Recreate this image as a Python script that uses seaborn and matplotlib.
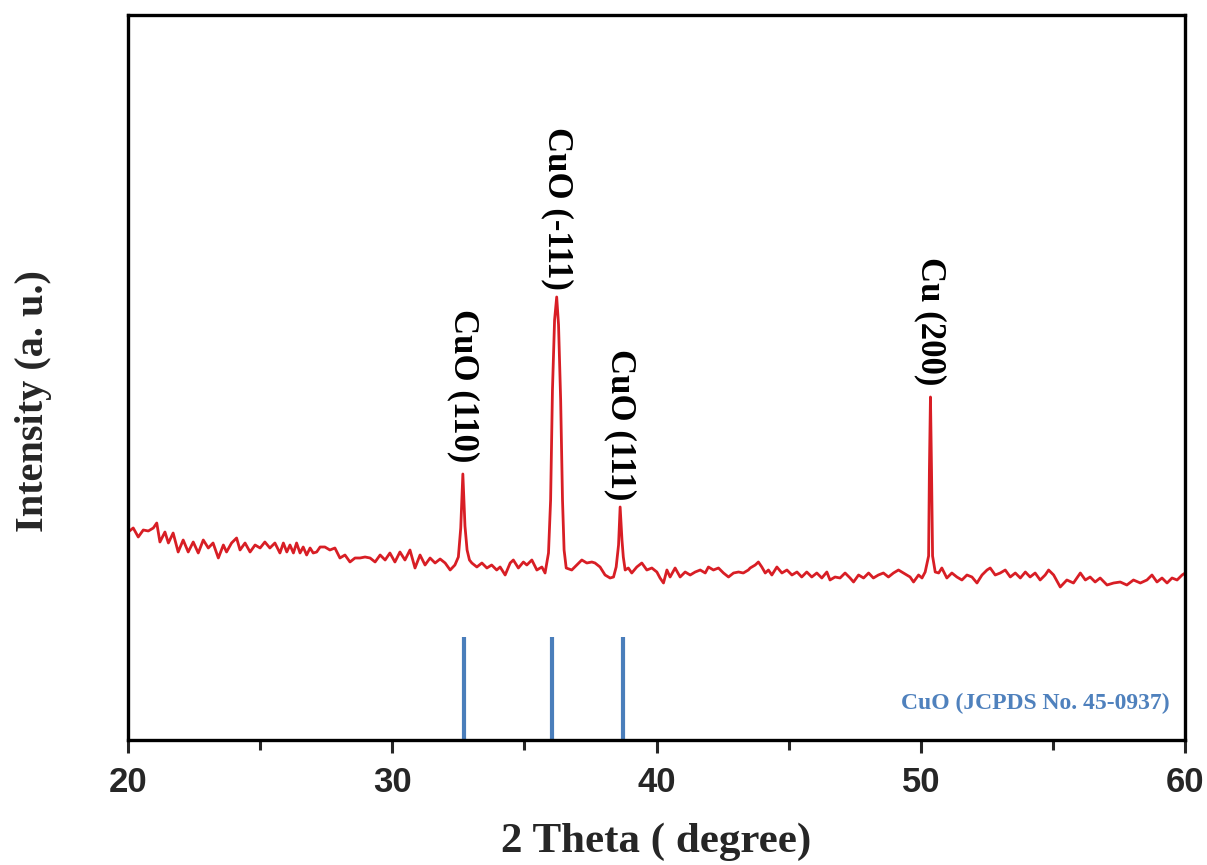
#!/usr/bin/env python3
# -*- coding: utf-8 -*-
"""XRD pattern of the CuO/Cu sample with JCPDS reference sticks."""

import numpy as np
import pandas as pd
import matplotlib
matplotlib.use('Agg')
import matplotlib.pyplot as plt
import seaborn as sns

# Measured pattern (2 theta in degree, intensity in a. u.)
two_theta = [
    20.01, 20.20, 20.39, 20.58, 20.77, 20.96, 21.09, 21.21, 21.40, 21.53,
    21.71, 21.90, 22.09, 22.28, 22.47, 22.66, 22.85, 23.04, 23.22, 23.42,
    23.61, 23.73, 23.92, 24.11, 24.24, 24.43, 24.62, 24.81, 25.00, 25.18,
    25.37, 25.56, 25.75, 25.88, 26.01, 26.13, 26.26, 26.38, 26.51, 26.63,
    26.76, 26.89, 27.01, 27.14, 27.27, 27.45, 27.64, 27.83, 28.02, 28.21,
    28.40, 28.59, 28.78, 28.97, 29.16, 29.35, 29.54, 29.73, 29.91, 30.10,
    30.29, 30.48, 30.67, 30.86, 31.05, 31.24, 31.43, 31.62, 31.81, 32.00,
    32.19, 32.37, 32.50, 32.59, 32.67, 32.75, 32.83, 32.92, 33.01, 33.20,
    33.39, 33.58, 33.76, 33.95, 34.08, 34.27, 34.46, 34.58, 34.77, 34.96,
    35.09, 35.28, 35.47, 35.66, 35.78, 35.91, 35.99, 36.06, 36.14, 36.22,
    36.29, 36.37, 36.44, 36.50, 36.58, 36.79, 36.98, 37.17, 37.36, 37.55,
    37.67, 37.86, 38.05, 38.24, 38.37, 38.47, 38.56, 38.62, 38.69, 38.74,
    38.81, 38.93, 39.06, 39.25, 39.44, 39.63, 39.82, 40.01, 40.13, 40.26,
    40.39, 40.51, 40.70, 40.89, 41.08, 41.27, 41.46, 41.65, 41.84, 41.96,
    42.15, 42.34, 42.53, 42.72, 42.91, 43.10, 43.28, 43.47, 43.54, 43.73,
    43.85, 43.98, 44.11, 44.23, 44.36, 44.55, 44.74, 44.93, 45.12, 45.31,
    45.49, 45.68, 45.87, 46.06, 46.25, 46.44, 46.56, 46.75, 46.94, 47.13,
    47.32, 47.45, 47.64, 47.83, 48.02, 48.20, 48.39, 48.58, 48.77, 48.96,
    49.15, 49.34, 49.59, 49.72, 49.91, 50.04, 50.16, 50.29, 50.32, 50.36,
    50.40, 50.44, 50.54, 50.67, 50.79, 50.98, 51.17, 51.36, 51.55, 51.74,
    51.93, 52.12, 52.31, 52.50, 52.62, 52.81, 53.00, 53.19, 53.38, 53.57,
    53.76, 53.95, 54.13, 54.32, 54.51, 54.70, 54.83, 55.02, 55.27, 55.52,
    55.77, 56.03, 56.22, 56.40, 56.59, 56.78, 57.04, 57.29, 57.54, 57.79,
    58.04, 58.30, 58.55, 58.74, 58.93, 59.12, 59.31, 59.50, 59.69, 59.88,
    60.00,
]
intensity = [
    208, 212, 203, 210, 209, 212, 217, 198, 208, 197,
    207, 188, 200, 188, 198, 187, 200, 192, 197, 182,
    195, 188, 197, 202, 190, 197, 188, 195, 192, 198,
    192, 197, 187, 197, 188, 195, 187, 197, 187, 193,
    185, 192, 187, 188, 193, 193, 190, 192, 182, 185,
    178, 182, 182, 183, 182, 178, 185, 180, 187, 178,
    188, 180, 190, 172, 185, 175, 182, 177, 181, 177,
    170, 175, 183, 212, 266, 214, 190, 180, 177, 173,
    177, 172, 175, 170, 173, 165, 177, 180, 172, 178,
    175, 180, 170, 173, 167, 187, 240, 350, 420, 443,
    415, 340, 240, 190, 172, 170, 175, 180, 177, 178,
    177, 173, 165, 162, 163, 173, 195, 233, 200, 183,
    170, 172, 167, 173, 177, 170, 172, 168, 162, 157,
    170, 163, 172, 163, 168, 165, 168, 170, 167, 173,
    170, 172, 167, 163, 167, 168, 167, 170, 172, 175,
    178, 173, 167, 170, 165, 173, 167, 170, 165, 168,
    163, 168, 163, 167, 162, 168, 160, 163, 162, 167,
    162, 158, 165, 162, 167, 162, 165, 167, 163, 167,
    170, 167, 163, 158, 165, 162, 168, 184, 270, 343,
    270, 184, 168, 167, 172, 162, 167, 163, 160, 165,
    163, 157, 165, 170, 172, 165, 167, 170, 163, 167,
    162, 168, 163, 167, 160, 165, 170, 165, 153, 160,
    157, 167, 160, 163, 158, 162, 155, 157, 158, 155,
    160, 157, 160, 165, 158, 162, 157, 162, 160, 165,
    167,
]

# JCPDS 45-0937 reference lines for CuO
ref_pos = [32.72, 36.05, 38.73]
ref_height = 103

# Peak labels
peak_names = ['CuO (110)', 'CuO (-111)', 'CuO (111)', 'Cu (200)']
peak_x = [32.68, 36.23, 38.62, 50.35]
peak_y = [278, 450, 240, 355]

df = pd.DataFrame({'two_theta': two_theta, 'intensity': intensity})

sns.set_style('white')
plt.rcParams['font.family'] = ['Liberation Serif', 'DejaVu Serif']

fig = plt.figure(figsize=(12.07, 8.65), dpi=100)
ax = fig.add_axes([0.106, 0.1445, 0.876, 0.8382])

sns.lineplot(data=df, x='two_theta', y='intensity', ax=ax,
             color='#d81e25', linewidth=2.0)
ax.vlines(ref_pos, 0, ref_height, colors='#4a7ebb', linewidth=3.0)

for name, x, y in zip(peak_names, peak_x, peak_y):
    ax.text(x, y, name, rotation=-90, ha='center', va='bottom',
            fontsize=25, fontweight='bold', color='black')

ax.text(59.42, 37, 'CuO (JCPDS No. 45-0937)', ha='right', va='center',
        fontsize=17, fontweight='bold', color='#4f81bd')

ax.set_xlim(20, 60)
ax.set_ylim(0, 725)
ax.set_xticks([20, 30, 40, 50, 60])
ax.set_xticks([25, 35, 45, 55], minor=True)
ax.set_yticks([])
for lab in ax.get_xticklabels():
    lab.set_family(['Liberation Sans', 'DejaVu Sans'])
    lab.set_fontweight('bold')
    lab.set_fontsize(25)
ax.tick_params(axis='x', which='major', direction='out', length=9,
               width=2.2, pad=10, bottom=True, top=False)
ax.tick_params(axis='x', which='minor', direction='out', length=7,
               width=2.2, bottom=True, top=False)
for sp in ax.spines.values():
    sp.set_linewidth(2.4)
    sp.set_color('black')

ax.set_xlabel('2 Theta ( degree)', fontsize=31, fontweight='bold',
              labelpad=17)
ax.set_ylabel('Intensity (a. u.)', fontsize=29, fontweight='bold')
ax.yaxis.set_label_coords(-0.072, 0.468)

fig.savefig('out.png', dpi=100)
